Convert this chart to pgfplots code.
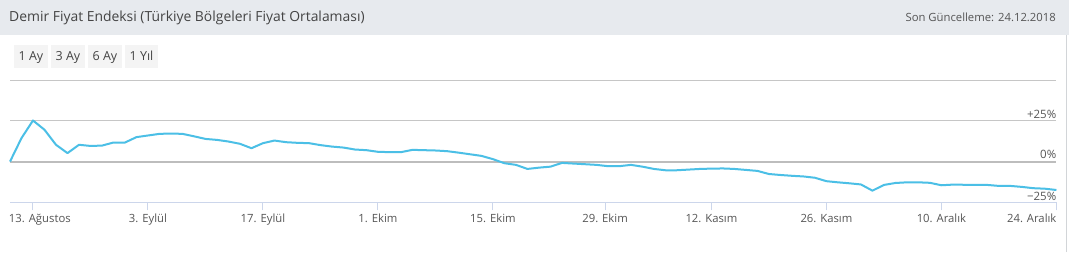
\documentclass[border=0pt]{standalone}
\usepackage{pgfplots}
\pgfplotsset{compat=1.18}
\usepackage{pgfplotstable}
\usepackage{fontspec}
\setmainfont{Open Sans}
\definecolor{hdr}{HTML}{E7EAEE}
\definecolor{btn}{HTML}{F4F4F4}
\definecolor{ln}{HTML}{4BBFE6}
\definecolor{grd}{HTML}{C6C6C6}
\definecolor{zer}{HTML}{BDBDBD}
\definecolor{axl}{HTML}{CCD6EB}
\definecolor{txt}{HTML}{555555}
\definecolor{ttl}{HTML}{444444}
\pgfplotstableread{
i v
0 0
1 14.4
2 25.2
3 19.5
4 10.3
5 5.2
6 10.3
7 9.6
8 9.8
9 11.7
10 11.7
11 15.0
12 16.0
13 17.0
14 17.2
15 17.0
16 15.5
17 13.9
18 13.3
19 12.3
20 10.9
21 8.2
22 11.3
23 12.9
24 11.9
25 11.5
26 11.3
27 10.1
28 9.2
29 8.6
30 7.4
31 7.0
32 6.0
33 5.8
34 5.8
35 7.2
36 7.0
37 6.8
38 6.4
39 5.5
40 4.5
41 3.5
42 1.5
43 -1.0
44 -2.0
45 -4.5
46 -3.7
47 -3.1
48 -0.8
49 -1.2
50 -1.6
51 -2.0
52 -2.8
53 -2.8
54 -2.0
55 -3.1
56 -4.5
57 -5.3
58 -5.3
59 -4.9
60 -4.5
61 -4.3
62 -4.2
63 -4.5
64 -5.1
65 -5.7
66 -7.6
67 -8.2
68 -8.7
69 -9.1
70 -9.9
71 -12.0
72 -12.7
73 -13.3
74 -14.0
75 -17.8
76 -14.3
77 -13.1
78 -12.7
79 -12.7
80 -13.0
81 -14.5
82 -14.1
83 -14.2
84 -14.3
85 -14.3
86 -14.9
87 -14.9
88 -15.5
89 -16.3
90 -16.6
91 -17.4
}\demir
\begin{document}
\begin{tikzpicture}[x=1pt,y=1pt]
\useasboundingbox (0,0) rectangle (1069,252);
\fill[white] (0,0) rectangle (1069,252);
\fill[hdr] (0,217) rectangle (1069,252);
\draw[hdr!80!gray] (1066.5,0) -- (1066.5,217);
\node[anchor=west,inner sep=0,text=ttl,font=\fontsize{13.9}{16}\selectfont] at (9,234.5) {Demir Fiyat Endeksi (Türkiye Bölgeleri Fiyat Ortalaması)};
\node[anchor=east,inner sep=0,text=txt,font=\fontsize{11.3}{13}\selectfont] at (1056,234.5) {Son Güncelleme: 24.12.2018};
\foreach \a/\b/\t in {14/48/1 Ay,51/85/3 Ay,88/122/6 Ay,125/158/1 Yıl}{
  \fill[btn] (\a,184) rectangle (\b,207);
  \node[anchor=base,inner sep=0,text=ttl,font=\fontsize{12.5}{14}\selectfont] at ({(\a+\b)/2},191.5) {\t};
}
\begin{axis}[
  at={(10pt,49.6pt)}, anchor=south west,
  scale only axis, width=1046.5pt, height=122.4pt,
  xmin=0, xmax=91, ymin=-25, ymax=50,
  axis x line*=bottom, axis y line*=left,
  x axis line style={draw=axl, line width=1pt},
  y axis line style={draw=none},
  xtick={2,12,22,32,42,51.75,61,71,81,91},
  xticklabels={{\makebox[0pt][l]{\hspace{-24pt}13. Ağustos}},3. Eylül,17. Eylül,1. Ekim,15. Ekim,29. Ekim,12. Kasım,26. Kasım,10. Aralık,{\makebox[0pt][r]{24. Aralık}}},
  xticklabel style={font=\fontsize{11.3}{13}\selectfont, text=txt, inner sep=0pt, yshift=-3.5pt},
  tick align=outside, major tick length=8pt,
  xtick style={draw=axl, line width=1pt},
  ytick={25,50}, yticklabels={}, ytick style={draw=none},
  ymajorgrids, grid style={draw=grd, line width=1pt},
  extra y ticks={0}, extra y tick labels={},
  extra y tick style={grid style={draw=zer, line width=2pt}, ytick style={draw=none}},
  clip=false,
]
\addplot[ln, line width=2pt, line join=round] table[x=i,y=v] {\demir};
\node[anchor=south east,inner sep=0,text=txt,font=\fontsize{11.5}{13}\selectfont,yshift=2pt] at (axis cs:91,25) {+25\%};
\node[anchor=south east,inner sep=0,text=txt,font=\fontsize{11.5}{13}\selectfont,yshift=2.5pt] at (axis cs:91,0) {0\%};
\node[anchor=south east,inner sep=0,text=txt,font=\fontsize{11.5}{13}\selectfont,yshift=2pt] at (axis cs:91,-25) {−25\%};
\end{axis}
\end{tikzpicture}
\end{document}
